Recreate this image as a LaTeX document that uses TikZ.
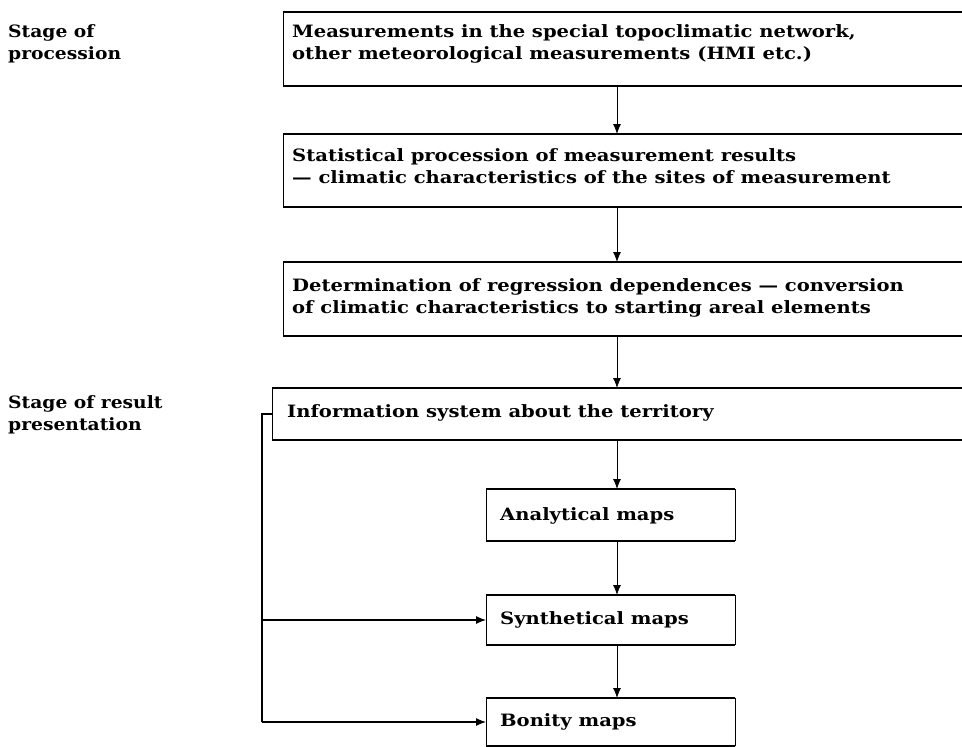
\documentclass[tikz,border=0pt]{standalone}
\usepackage{fontspec}
\setmainfont{DejaVu Serif}[FakeStretch=1.1]
\newfontfamily\boxfont{DejaVu Serif}[FakeStretch=1.15]
\usetikzlibrary{arrows.meta,calc}
\begin{document}
\begin{tikzpicture}[x=1pt,y=1pt,
 txt/.style={font=\boxfont\bfseries\fontsize{17}{22}\selectfont, align=left, inner sep=0pt, anchor=west},
 lab/.style={font=\bfseries\fontsize{17}{22}\selectfont, align=left, inner sep=0pt, anchor=west},
 frame/.style={draw=none, inner sep=0pt, outer sep=0pt, anchor=north west},
 hline/.style={line width=1.4pt},
 vline/.style={line width=0.8pt},
 fline/.style={line width=1.1pt},
 arr/.style={line width=0.8pt, -{Latex[length=10pt,width=8pt]}}
]
\useasboundingbox (0,0) rectangle (962,-747);
% frames
\node[frame, minimum width=679pt, minimum height=74pt] (f1) at (283,-12) {};
\node[frame, minimum width=679pt, minimum height=73pt] (f2) at (283,-134) {};
\node[frame, minimum width=679pt, minimum height=74pt] (f3) at (283,-262) {};
\node[frame, minimum width=690pt, minimum height=52pt] (f4) at (272,-388) {};
\node[frame, minimum width=249pt, minimum height=52pt] (f5) at (486,-489) {};
\node[frame, minimum width=249pt, minimum height=50pt] (f6) at (486,-595) {};
\node[frame, minimum width=249pt, minimum height=48pt] (f7) at (486,-698) {};
% wide borders
\foreach \f in {f1,f2,f3,f4}{
  \draw[hline] (\f.north east) -- (\f.north west);
  \draw[vline] (\f.north west) -- (\f.south west);
  \draw[hline] (\f.south west) -- (\f.south east);
}
% small borders
\foreach \f in {f5,f6,f7}{
  \draw[hline] (\f.north west) -- (\f.north east);
  \draw[hline] (\f.south west) -- (\f.south east);
  \draw[vline] (\f.north west) -- (\f.south west);
  \draw[vline] (\f.north east) -- (\f.south east);
}
% texts
\node[txt] (t1) at (292,-44) {Measurements in the special topoclimatic network,\\other meteorological measurements (HMI etc.)};
\node[txt] (t2) at (292,-166) {Statistical procession of measurement results\\— climatic characteristics of the sites of measurement};
\node[txt] (t3) at (292,-298) {Determination of regression dependences — conversion\\of climatic characteristics to starting areal elements};
\node[txt] (t4) at (287,-413) {Information system about the territory};
\node[txt] (t5) at (500,-516) {Analytical maps};
\node[txt] (t6) at (500,-620) {Synthetical maps};
\node[txt] (t7) at (500,-722) {Bonity maps};
\node[lab] (s1) at (8,-44) {Stage of\\procession};
\node[lab] (s2) at (8,-415) {Stage of result\\presentation};
% arrows
\coordinate (ax) at (617,0);
\draw[arr] (f1.south -| ax) -- (f2.north -| ax);
\draw[arr] (f2.south -| ax) -- (f3.north -| ax);
\draw[arr] (f3.south -| ax) -- (f4.north -| ax);
\draw[arr] (f4.south -| ax) -- (f5.north -| ax);
\draw[arr] (f5.south -| ax) -- (f6.north -| ax);
\draw[arr] (f6.south -| ax) -- (f7.north -| ax);
% feedback lines
\coordinate (lx) at (262,0);
\draw[fline] (f4.west) -- (f4.west -| lx) -- (lx |- f7.west);
\draw[arr, fline] (lx |- f6.west) -- (f6.west);
\draw[arr, fline] (lx |- f7.west) -- (f7.west);
\end{tikzpicture}
\end{document}
